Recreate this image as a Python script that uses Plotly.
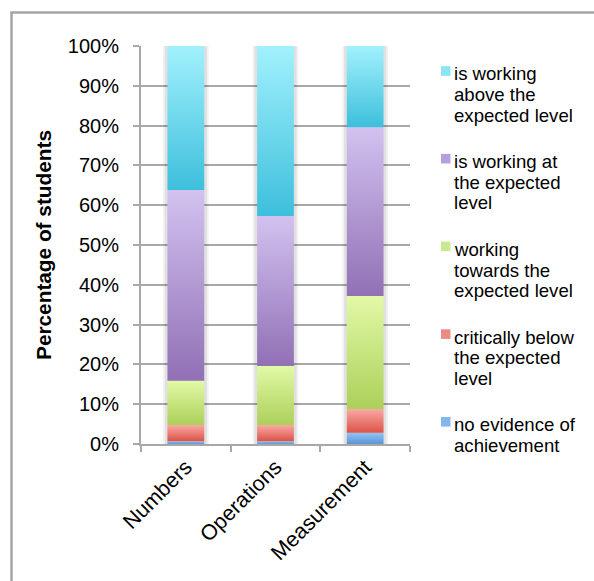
import plotly.graph_objects as go

# Subjects (x categories)
categories = ["Numbers", "Operations", "Measurement"]

# Percentage of students in each achievement band, bottom to top of each stack
no_evidence = [0.7, 0.7, 2.8]
critically_below = [4.1, 4.1, 6.0]
working_towards = [11.1, 14.8, 28.4]
working_at = [47.9, 37.7, 42.4]
working_above = [36.2, 42.7, 20.4]

series_names = [
    "no evidence of achievement",
    "critically below the expected level",
    "working towards the expected level",
    "is working at the expected level",
    "is working above the expected level",
]
# Legend wording, wrapped the way it is shown beside the chart
legend_lines = [
    ["no evidence of", "achievement"],
    ["critically below", "the expected", "level"],
    ["working", "towards the", "expected level"],
    ["is working at", "the expected", "level"],
    ["is working", "above the", "expected level"],
]
series_values = [no_evidence, critically_below, working_towards, working_at, working_above]

# (bottom colour, top colour, legend swatch colour) for each band
series_colors = [
    ("#5b95d6", "#92c4f2", "#84b6ee"),
    ("#dc5248", "#f9aaa4", "#ec8a84"),
    ("#acd05a", "#e2f9a6", "#c8e892"),
    ("#9170b5", "#d2c2f0", "#b4a0de"),
    ("#3dbfdc", "#a2f1fd", "#8ae6f6"),
]

GRID = "#a8a8a8"
FONT = "Liberation Sans, Arial, sans-serif"
BAR_WIDTH = 0.41

W, H = 594, 581
M_L, M_R, M_T, M_B = 141, 184, 46, 137
PW, PH = W - M_L - M_R, H - M_T - M_B


def px_x(px):
    """Pixel column -> paper x."""
    return (px - M_L) / PW


def px_y(py):
    """Pixel row -> paper y."""
    return (H - M_B - py) / PH


fig = go.Figure()

# Soft halo behind each column
for i, cat in enumerate(categories):
    total = sum(s[i] for s in series_values)
    for grow, alpha in ((0.05, 0.05), (0.03, 0.07)):
        x0, x1 = i - BAR_WIDTH / 2 - grow, i + BAR_WIDTH / 2 + grow
        fig.add_trace(go.Scatter(
            x=[x0, x1, x1, x0, x0], y=[-0.6, -0.6, total, total, -0.6],
            mode="lines", fill="toself", fillcolor=f"rgba(0,0,0,{alpha})",
            line=dict(width=0, color="rgba(0,0,0,0)"),
            showlegend=False, hoverinfo="skip",
        ))

# Stacked columns with vertical gradient fills
base = [0.0] * len(categories)
for name, vals, (c_bot, c_top, _) in zip(series_names, series_values, series_colors):
    for i, cat in enumerate(categories):
        lo, hi = base[i], base[i] + vals[i]
        x0, x1 = i - BAR_WIDTH / 2, i + BAR_WIDTH / 2
        fig.add_trace(go.Scatter(
            x=[x0, x1, x1, x0, x0], y=[lo, lo, hi, hi, lo],
            mode="lines", fill="toself",
            fillgradient=dict(type="vertical", colorscale=[[0, c_bot], [1, c_top]]),
            line=dict(width=0, color="rgba(0,0,0,0)"),
            name=name, showlegend=False,
            hoveron="fills", hoverinfo="name",
        ))
        base[i] = hi

# Key on the right: swatch plus tightly spaced wrapped text, top band first
shapes = []
annotations = []
ENTRY_TOP, ENTRY_STEP, LINE_STEP = 74.0, 87.7, 20.6
for row, k in enumerate(range(len(series_names) - 1, -1, -1)):
    y_first = ENTRY_TOP + row * ENTRY_STEP
    sy = y_first - 3
    shapes.append(dict(
        type="rect", xref="paper", yref="paper",
        x0=px_x(441), x1=px_x(450.5), y0=px_y(sy + 4.8), y1=px_y(sy - 4.8),
        line=dict(width=0), fillcolor=series_colors[k][2],
    ))
    for j, line in enumerate(legend_lines[k]):
        annotations.append(dict(
            xref="paper", yref="paper", x=px_x(452), y=px_y(y_first + j * LINE_STEP),
            xanchor="left", yanchor="middle", text=line, showarrow=False,
            font=dict(size=18.6, family=FONT, color="#000000"),
        ))

# Chart border
shapes.append(dict(
    type="rect", xref="paper", yref="paper",
    x0=px_x(11.5), x1=px_x(620), y0=px_y(620), y1=px_y(12.5),
    line=dict(color="#a5a5a5", width=2.5), fillcolor="rgba(0,0,0,0)",
    layer="below",
))

fig.update_layout(
    width=W, height=H,
    margin=dict(l=M_L, r=M_R, t=M_T, b=M_B),
    paper_bgcolor="white", plot_bgcolor="white",
    font=dict(family=FONT, size=20, color="#000000"),
    showlegend=False,
    xaxis=dict(
        range=[-0.5, 2.5], showgrid=False, zeroline=False,
        tickmode="array", tickvals=list(range(len(categories))), ticktext=categories,
        ticks="", tickangle=-45, tickfont=dict(size=21.5),
        showline=True, linecolor=GRID, linewidth=2,
        minor=dict(tickmode="array", tickvals=[-0.5, 0.5, 1.5, 2.5],
                   ticks="outside", ticklen=6, tickwidth=2, tickcolor=GRID),
        fixedrange=True,
    ),
    yaxis=dict(
        range=[0, 100], dtick=10, ticksuffix="%",
        showgrid=True, gridcolor=GRID, gridwidth=2, zeroline=False,
        ticks="outside", ticklen=6, tickwidth=2, tickcolor=GRID,
        showline=True, linecolor=GRID, linewidth=2,
        ticklabelstandoff=10,
        title=dict(text="<b>Percentage of students</b>", font=dict(size=20.8), standoff=11),
        fixedrange=True,
    ),
    shapes=shapes,
    annotations=annotations,
)

fig.write_html("out.html")
